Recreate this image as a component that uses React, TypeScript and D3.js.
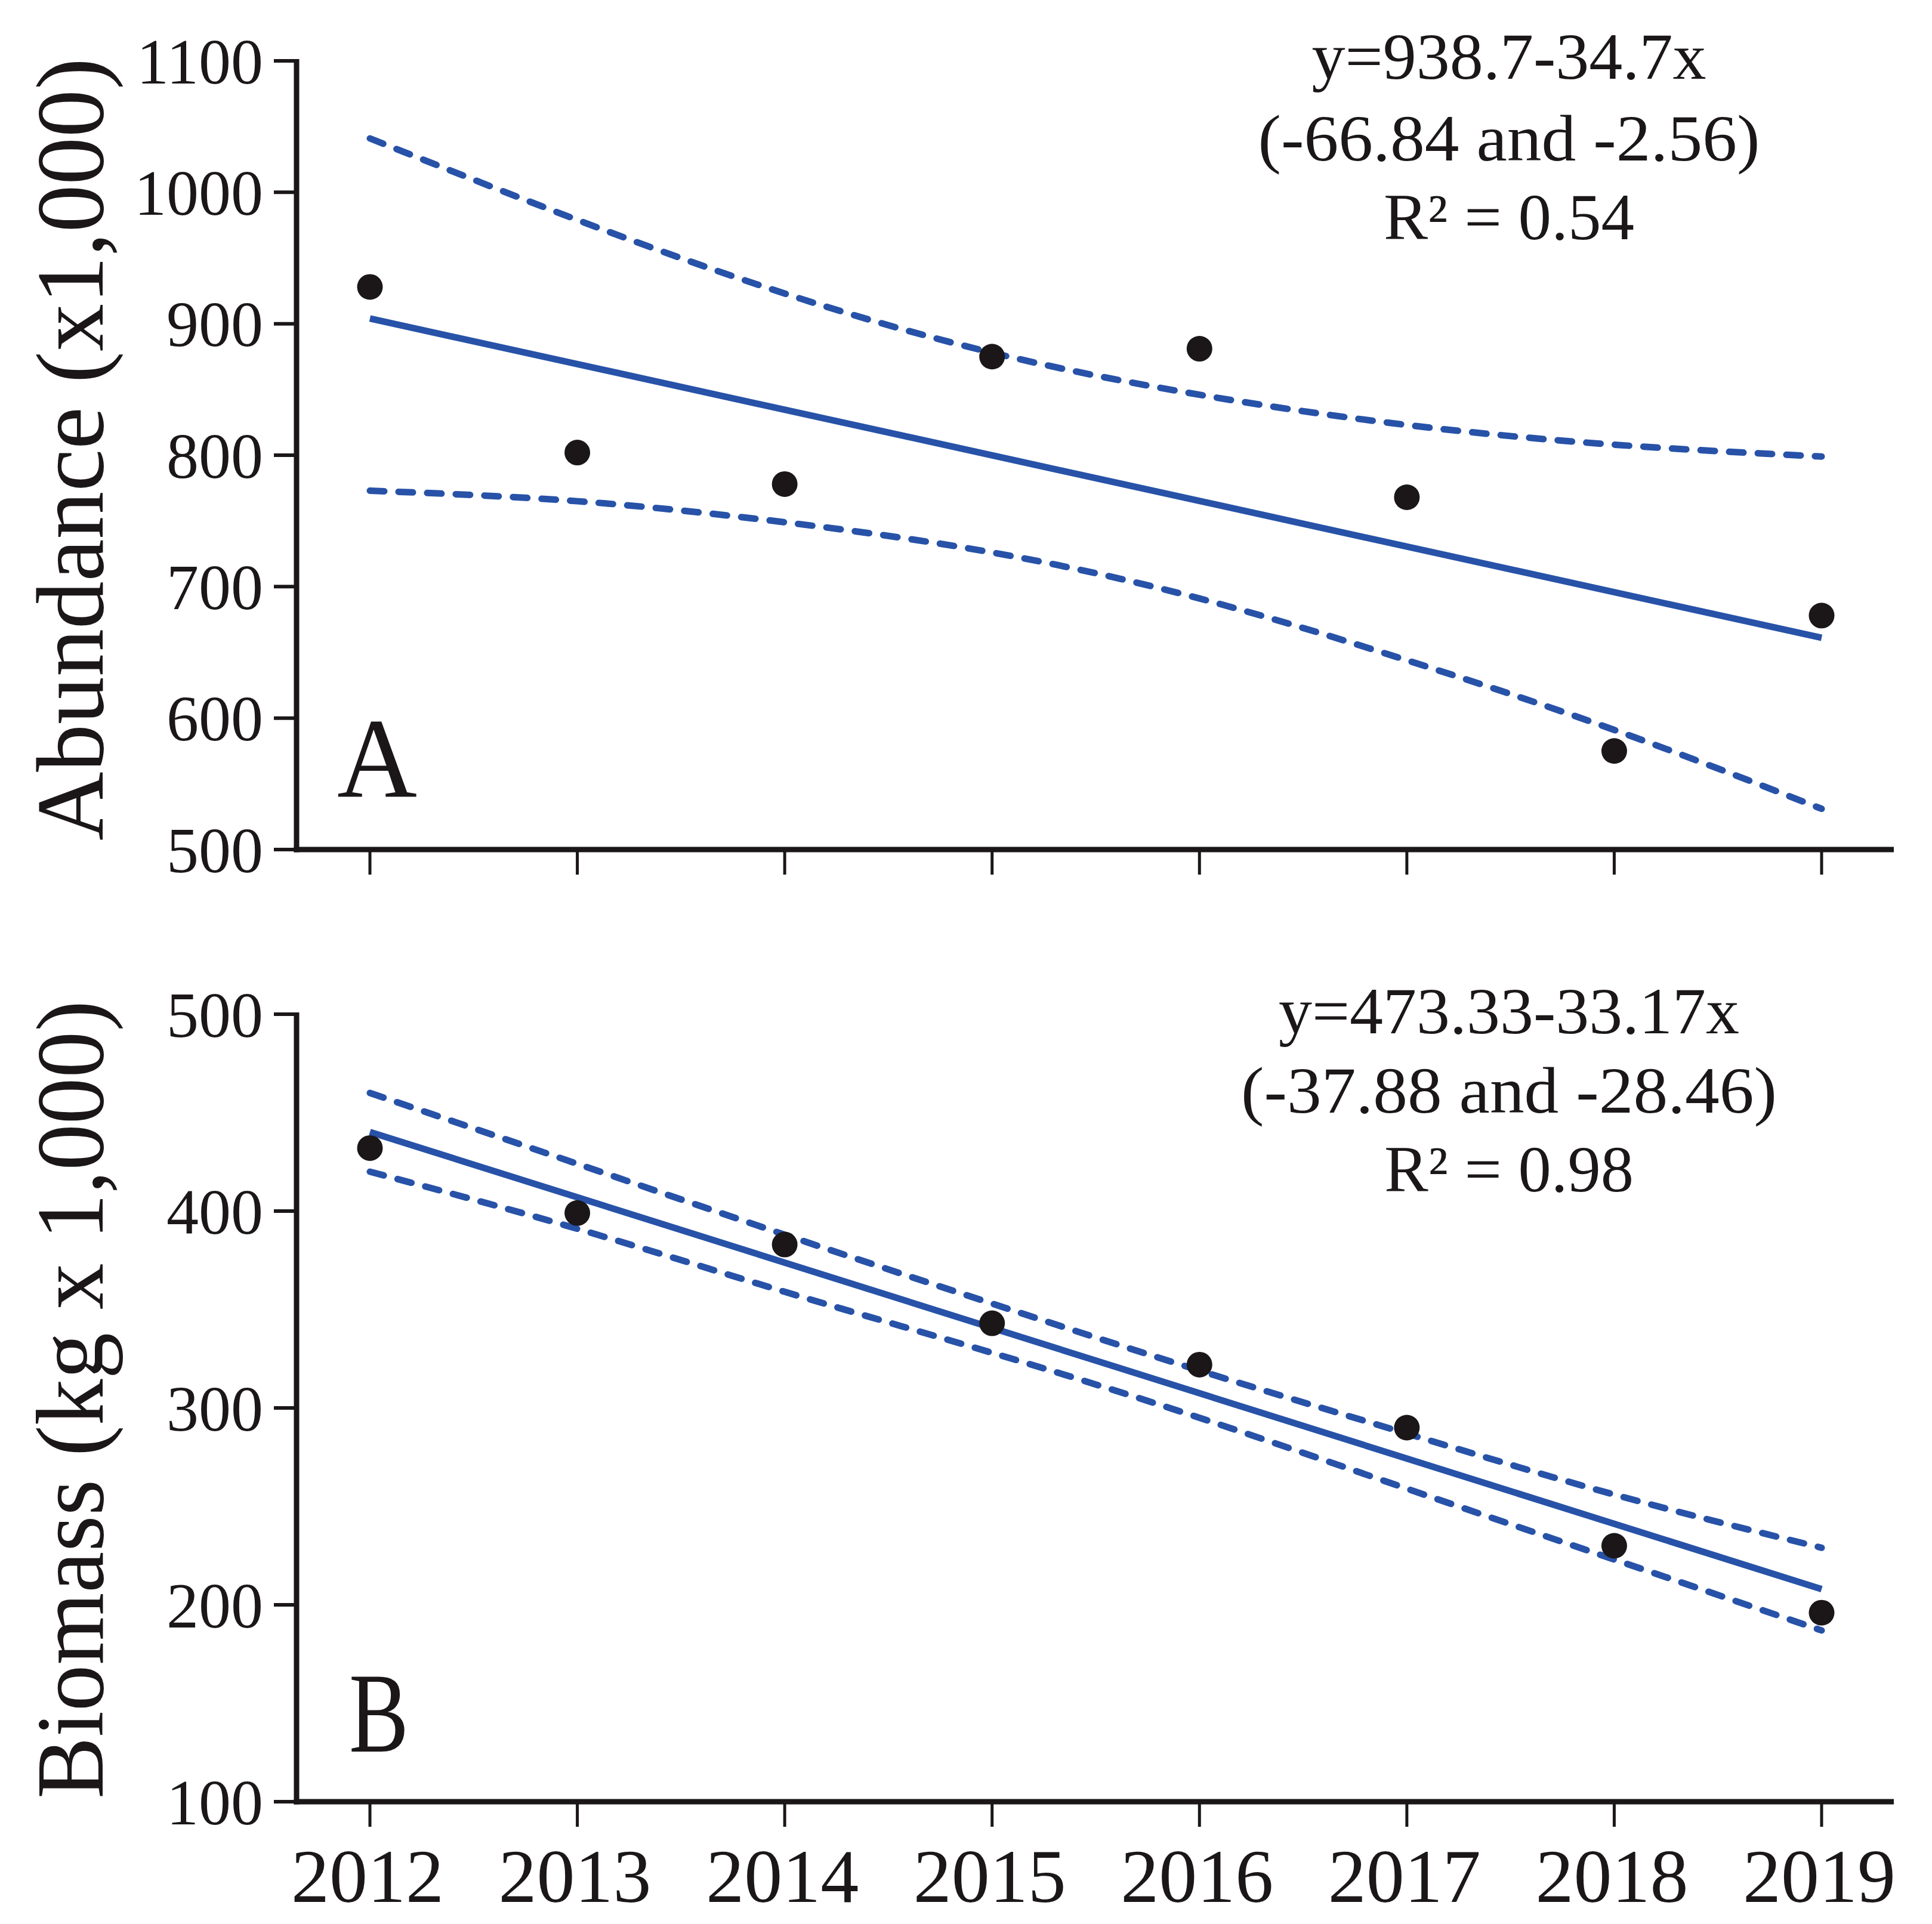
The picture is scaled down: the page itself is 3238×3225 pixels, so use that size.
import React from "react";
import * as d3 from "d3";

// ---------- data ----------
const years = [2012, 2013, 2014, 2015, 2016, 2017, 2018, 2019];

const abundance = [928, 802, 778, 875, 881, 768, 575, 678];
const abundanceUpper = [1041, 979, 923, 878, 846, 823, 808, 799];
const abundanceLower = [773, 765, 749, 726, 691, 644, 591, 531];
const abundanceFit = [938.7, -34.7]; // intercept, slope (x = year index from 1)

const biomass = [432, 399, 383, 343, 322, 290, 230, 196];
const biomassUpper = [460, 424, 388, 353, 319, 287, 256, 229];
const biomassLower = [420, 391, 359, 328, 295, 259, 223, 187];
const biomassFit = [473.33, -33.17];

const yTicksA = [500, 600, 700, 800, 900, 1000, 1100];
const yTicksB = [100, 200, 300, 400, 500];

const eqA = ["y=938.7-34.7x", "(-66.84 and -2.56)", "R\u00B2 = 0.54"];
const eqB = ["y=473.33-33.17x", "(-37.88 and -28.46)", "R\u00B2 = 0.98"];

// ---------- layout ----------
const W = 3238;
const H = 3225;
const FONT = "'Liberation Serif', 'Times New Roman', serif";
const INK = "#1b1718";
const BLUE = "#2752a8";
const AXIS_X0 = 497;
const AXIS_X1 = 3174;

const x = d3.scaleLinear().domain([2012, 2019]).range([620, 3053]);
const yA = d3.scaleLinear().domain([500, 1100]).range([1424, 102]);
const yB = d3.scaleLinear().domain([100, 500]).range([3020, 1700]);

type PanelProps = {
  y: d3.ScaleLinear<number, number>;
  ticks: number[];
  values: number[];
  upper: number[];
  lower: number[];
  fit: number[];
  eq: string[];
  eqWidths: number[];
  eqBaselines: number[];
  letter: string;
  letterPos: [number, number];
  letterWidth: number;
  title: string;
  titleCenter: number;
  titleLength: number;
  showXLabels: boolean;
};

function Panel(p: PanelProps) {
  const [d0, d1] = p.y.domain();
  const yBottom = p.y(d0);
  const yTop = p.y(d1);
  const band = d3
    .line<number>()
    .x((_, i) => x(years[i]))
    .y((v) => p.y(v))
    .curve(d3.curveNatural);
  const fitLine = d3
    .line<number>()
    .x((yr) => x(yr))
    .y((yr) => p.y(p.fit[0] + p.fit[1] * (yr - 2011)));

  return (
    <g>
      {/* y axis */}
      <line x1={AXIS_X0} x2={AXIS_X0} y1={yTop - 3} y2={yBottom + 4.5} stroke={INK} strokeWidth={9} />
      {p.ticks.map((t) => (
        <g key={t}>
          <line x1={AXIS_X0 - 38} x2={AXIS_X0} y1={p.y(t)} y2={p.y(t)} stroke={INK} strokeWidth={6} />
          <text
            x={AXIS_X0 - 56}
            y={p.y(t)}
            dy="0.35em"
            textAnchor="end"
            fontFamily={FONT}
            fontSize={108}
            fill={INK}
          >
            {t}
          </text>
        </g>
      ))}
      {/* x axis */}
      <line x1={AXIS_X0 - 4.5} x2={AXIS_X1} y1={yBottom} y2={yBottom} stroke={INK} strokeWidth={9} />
      {years.map((yr) => (
        <g key={yr}>
          <line x1={x(yr)} x2={x(yr)} y1={yBottom} y2={yBottom + 42} stroke={INK} strokeWidth={5} />
          {p.showXLabels && (
            <text
              x={x(yr) - 4}
              y={3188}
              textAnchor="middle"
              fontFamily={FONT}
              fontSize={128}
              fill={INK}
            >
              {yr}
            </text>
          )}
        </g>
      ))}
      {/* axis title */}
      <text
        transform={`translate(172, ${p.titleCenter}) rotate(-90)`}
        textAnchor="middle"
        fontFamily={FONT}
        fontSize={160}
        fill={INK}
        textLength={p.titleLength}
        lengthAdjust="spacingAndGlyphs"
      >
        {p.title}
      </text>
      {/* confidence bands */}
      <path
        d={band(p.upper) || ""}
        fill="none"
        stroke={BLUE}
        strokeWidth={11}
        strokeDasharray="24,24"
        strokeLinecap="round"
      />
      <path
        d={band(p.lower) || ""}
        fill="none"
        stroke={BLUE}
        strokeWidth={11}
        strokeDasharray="24,24"
        strokeLinecap="round"
      />
      {/* regression */}
      <path d={fitLine([years[0], years[years.length - 1]]) || ""} fill="none" stroke={BLUE} strokeWidth={11} />
      {/* points */}
      {p.values.map((v, i) => (
        <circle key={i} cx={x(years[i])} cy={p.y(v)} r={21.5} fill={INK} />
      ))}
      {/* panel letter */}
      <text
        x={p.letterPos[0]}
        y={p.letterPos[1]}
        fontFamily={FONT}
        fontSize={190}
        fill={INK}
        textLength={p.letterWidth}
        lengthAdjust="spacingAndGlyphs"
      >
        {p.letter}
      </text>
      {/* equation */}
      {p.eq.map((s, i) => (
        <text
          key={i}
          x={2529}
          y={p.eqBaselines[i]}
          textAnchor="middle"
          fontFamily={FONT}
          fontSize={110}
          fill={INK}
          textLength={p.eqWidths[i]}
          lengthAdjust="spacingAndGlyphs"
        >
          {s}
        </text>
      ))}
    </g>
  );
}

export default function App() {
  return (
    <svg
      width={W}
      height={H}
      viewBox={`0 0 ${W} ${H}`}
      style={{ position: "absolute", left: 0, top: 0, background: "#ffffff" }}
    >
      <rect x={0} y={0} width={W} height={H} fill="#ffffff" />
      <Panel
        y={yA}
        ticks={yTicksA}
        values={abundance}
        upper={abundanceUpper}
        lower={abundanceLower}
        fit={abundanceFit}
        eq={eqA}
        eqWidths={[661, 841, 420]}
        eqBaselines={[132, 269, 401]}
        letter="A"
        letterPos={[565, 1336]}
        letterWidth={134}
        title="Abundance (x1,000)"
        titleCenter={753}
        titleLength={1312}
        showXLabels={false}
      />
      <Panel
        y={yB}
        ticks={yTicksB}
        values={biomass}
        upper={biomassUpper}
        lower={biomassLower}
        fit={biomassFit}
        eq={eqB}
        eqWidths={[772, 898, 418]}
        eqBaselines={[1732, 1865, 1997]}
        letter="B"
        letterPos={[585, 2936]}
        letterWidth={100}
        title="Biomass (kg x 1,000)"
        titleCenter={2346}
        titleLength={1338}
        showXLabels={true}
      />
    </svg>
  );
}
